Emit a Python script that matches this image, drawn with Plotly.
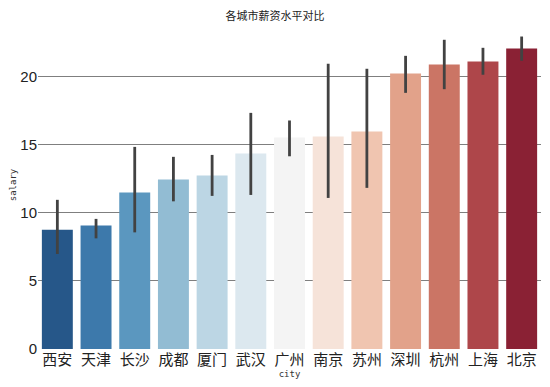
import plotly.graph_objects as go

cities = ["西安", "天津", "长沙", "成都", "厦门", "武汉", "广州", "南京", "苏州", "深圳", "杭州", "上海", "北京"]
salary = [8.77, 9.07, 11.49, 12.45, 12.74, 14.36, 15.54, 15.61, 15.98, 20.24, 20.90, 21.13, 22.08]
ci_upper = [10.96, 9.56, 14.85, 14.12, 14.26, 17.35, 16.79, 20.96, 20.59, 21.54, 22.72, 22.13, 22.96]
ci_lower = [6.98, 8.13, 8.57, 10.85, 11.25, 11.32, 14.16, 11.10, 11.84, 18.82, 19.09, 20.15, 21.18]
colors = ["#265789", "#3d79ab", "#5b97bf", "#92bcd3", "#bcd6e4", "#dce8ef", "#f4f4f4",
          "#f6e3d9", "#f0c5b0", "#e2a28a", "#cb7565", "#ae464a", "#8a2134"]

err_plus = [u - s for u, s in zip(ci_upper, salary)]
err_minus = [s - l for s, l in zip(salary, ci_lower)]

fig = go.Figure(go.Bar(
    x=cities, y=salary,
    marker=dict(color=colors, line=dict(width=0)),
    width=0.8,
    error_y=dict(type="data", array=err_plus, arrayminus=err_minus,
                 color="#424242", thickness=2.8, width=0),
))

fig.update_layout(
    width=550, height=387,
    margin=dict(l=30, r=17, t=13, b=46),
    paper_bgcolor="white", plot_bgcolor="white",
    showlegend=False,
    title=dict(text="各城市薪资水平对比", x=0.4855, xanchor="center", y=0.980, yanchor="middle",
               font=dict(family="Noto Sans CJK SC", size=11, color="#222222")),
    xaxis=dict(
        range=[-0.5, 12.5], showgrid=False, zeroline=False, showline=False, ticks="",
        automargin=False,
        tickfont=dict(family="Noto Sans CJK SC", size=15, color="#222222"),
        title=dict(text="city", standoff=1,
                   font=dict(family="DejaVu Sans Mono", size=9, color="#333333")),
    ),
    yaxis=dict(
        range=[0, 24.1], showgrid=True, gridcolor="#7f7f7f", gridwidth=1,
        zeroline=False, showline=False, ticks="",
        automargin=False,
        tickvals=[0, 5, 10, 15, 20],
        tickfont=dict(family="Liberation Sans", size=15, color="#222222"),
        title=dict(text="salary", standoff=9,
                   font=dict(family="DejaVu Sans Mono", size=9, color="#333333")),
    ),
)

fig.write_html("out.html")
